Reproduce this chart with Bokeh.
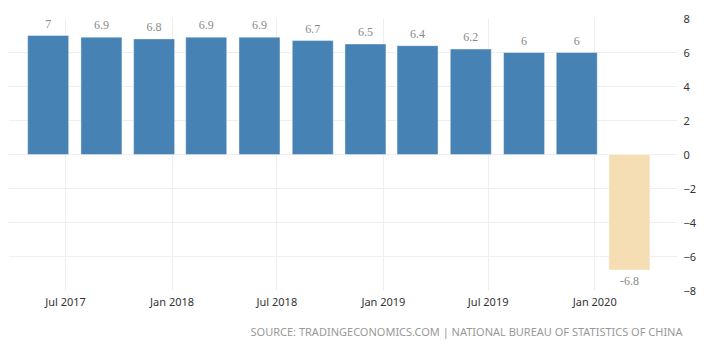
import pandas as pd
from bokeh.plotting import figure
from bokeh.models import ColumnDataSource, FixedTicker, DatetimeTickFormatter, Range1d, Title
from bokeh.core.properties import value
from bokeh.embed import file_html
from bokeh.resources import INLINE

# Data
quarters = ["2017-06-01", "2017-09-01", "2017-12-01", "2018-03-01", "2018-06-01", "2018-09-01",
            "2018-12-01", "2019-03-01", "2019-06-01", "2019-09-01", "2019-12-01", "2020-03-01"]
gdp_growth = [7.0, 6.9, 6.8, 6.9, 6.9, 6.7, 6.5, 6.4, 6.2, 6.0, 6.0, -6.8]
x_ticks = ["2017-07-01", "2018-01-01", "2018-07-01", "2019-01-01", "2019-07-01", "2020-01-01"]
y_ticks = [-8, -6, -4, -2, 0, 2, 4, 6, 8]
source_text = "SOURCE: TRADINGECONOMICS.COM | NATIONAL BUREAU OF STATISTICS OF CHINA"

BLUE = "#4682b4"
WHEAT = "#f5deb3"

dates = pd.to_datetime(quarters)
colors = [BLUE if v >= 0 else WHEAT for v in gdp_growth]
labels = [f"{v:g}" for v in gdp_growth]

pos = [i for i, v in enumerate(gdp_growth) if v >= 0]
neg = [i for i, v in enumerate(gdp_growth) if v < 0]

src = ColumnDataSource(dict(x=dates, top=gdp_growth, color=colors, label=labels))
src_pos = ColumnDataSource(dict(x=[dates[i] for i in pos], y=[gdp_growth[i] for i in pos],
                                label=[labels[i] for i in pos]))
src_neg = ColumnDataSource(dict(x=[dates[i] for i in neg], y=[gdp_growth[i] for i in neg],
                                label=[labels[i] for i in neg]))

x_start = pd.Timestamp("2017-03-24 12:00")
x_end = pd.Timestamp("2020-05-23")

p = figure(width=712, height=350, x_axis_type="datetime", y_axis_location="right",
           output_backend="svg", toolbar_location=None,
           x_range=Range1d(x_start, x_end), y_range=Range1d(-8, 8),
           min_border_left=8, min_border_right=35, min_border_top=18, min_border_bottom=60)
p.outline_line_color = None
p.background_fill_color = "white"
p.border_fill_color = "white"

bar_w = 70.8 * 86400000
p.vbar(x="x", top="top", bottom=0, width=bar_w, fill_color="color",
       line_color="white", line_alpha=0.4, line_width=1, source=src)

tf = value("Liberation Serif")
p.text(x="x", y="y", text="label", source=src_pos, text_align="center", text_baseline="bottom",
       y_offset=-8, text_font=tf, text_font_size="12px", text_color="#8a8a8a")
p.text(x="x", y="y", text="label", source=src_neg, text_align="center", text_baseline="top",
       y_offset=7, text_font=tf, text_font_size="12px", text_color="#8a8a8a")

tick_ms = [pd.Timestamp(t).value // 10**6 for t in x_ticks]
p.xaxis.ticker = FixedTicker(ticks=tick_ms)
p.xaxis.formatter = DatetimeTickFormatter(months="%b %Y", days="%b %Y", years="%b %Y")
p.yaxis.ticker = FixedTicker(ticks=y_ticks)

for ax in (p.xaxis[0], p.yaxis[0]):
    ax.axis_line_color = None
    ax.major_tick_line_color = None
    ax.minor_tick_line_color = None
    ax.major_tick_out = 0
    ax.major_tick_in = 0
    ax.minor_tick_out = 0
    ax.minor_tick_in = 0
    ax.major_label_text_font = "Noto Sans"
    ax.major_label_text_font_size = "11px"
    ax.major_label_text_color = "#333333"
p.xaxis.major_label_standoff = 3
p.yaxis.major_label_standoff = 6

p.xgrid.ticker = FixedTicker(ticks=tick_ms)
p.xgrid.grid_line_color = "#eeeeee"
p.ygrid.grid_line_color = "#eeeeee"

t = Title(text=source_text, align="right", text_font="Noto Sans", text_font_size="11px",
          text_color="#999999", text_font_style="normal", standoff=21, offset=-5)
p.add_layout(t, "below")

open("out.html", "w").write(file_html(p, INLINE))
